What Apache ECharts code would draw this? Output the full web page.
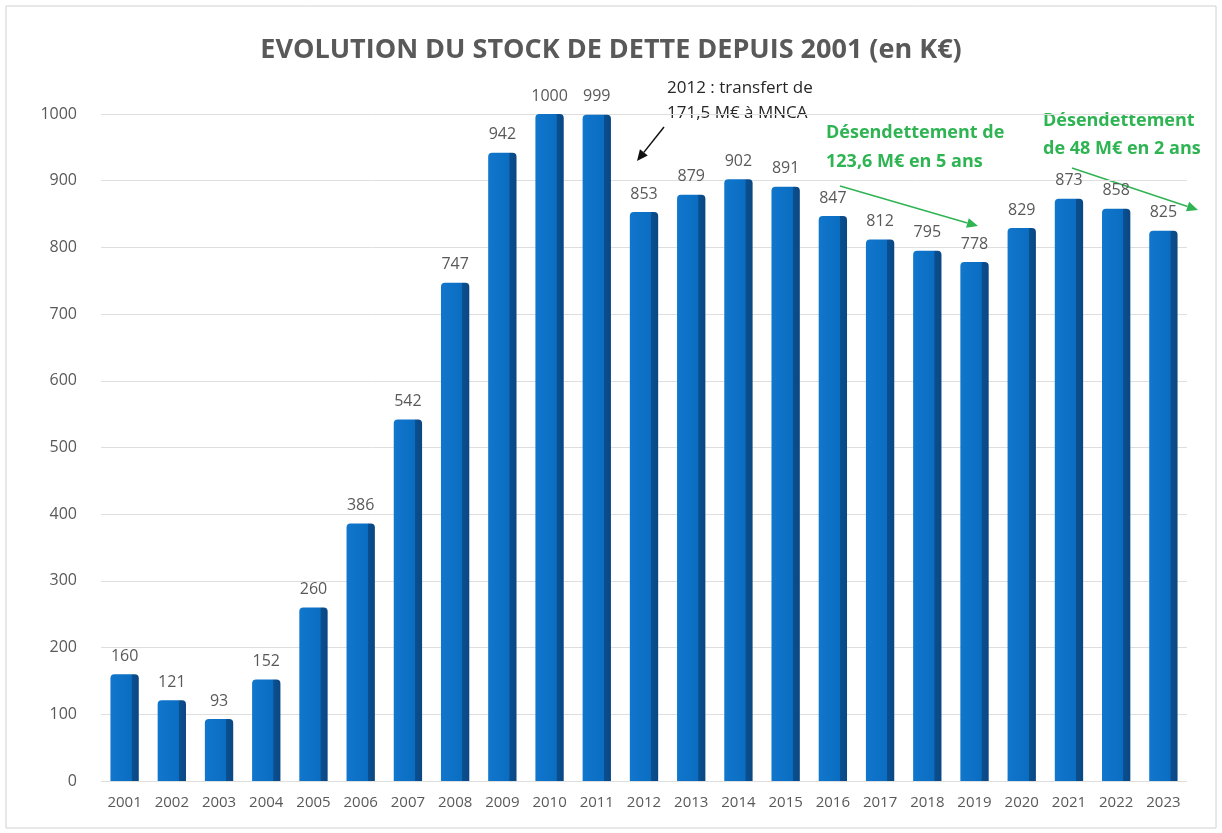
<!DOCTYPE html>
<html>
<head>
<meta charset="utf-8">
<script src="https://cdn.jsdelivr.net/npm/echarts@6/dist/echarts.min.js"></script>
<style>
html,body{margin:0;padding:0;background:#fff;}
#chart{width:1222px;height:833px;}
</style>
</head>
<body>
<div id="chart"></div>
<script>
// données
var annees = ['2001','2002','2003','2004','2005','2006','2007','2008','2009','2010','2011','2012',
    '2013','2014','2015','2016','2017','2018','2019','2020','2021','2022','2023'];
var stock = [160, 121, 93, 152, 260, 386, 542, 747, 942, 1000, 999, 853,
    879, 902, 891, 847, 812, 795, 778, 829, 873, 858, 825];
var yTicks = [0, 100, 200, 300, 400, 500, 600, 700, 800, 900, 1000];

var fontTxt = '"Open Sans", "Liberation Sans", sans-serif';
var gris = '#595959';
var vert = '#2fb453';

// petite flèche : trait + pointe
function fleche(x1, y1, x2, y2, color) {
    var a = Math.atan2(y2 - y1, x2 - x1);
    var L = 11, W = 5;
    var bx = x2 - L * Math.cos(a), by = y2 - L * Math.sin(a);
    return [{
        type: 'line',
        shape: {x1: x1, y1: y1, x2: bx, y2: by},
        style: {stroke: color, lineWidth: 1.5}
    }, {
        type: 'polygon',
        shape: {points: [[x2, y2],
            [bx + W * Math.sin(a), by - W * Math.cos(a)],
            [bx - W * Math.sin(a), by + W * Math.cos(a)]]},
        style: {fill: color}
    }];
}

var chart = echarts.init(document.getElementById('chart'));

var graphics = [{
    type: 'rect',
    shape: {x: 6, y: 6, width: 1210, height: 822},
    style: {fill: 'none', stroke: '#d0d0d0', lineWidth: 1},
    silent: true
}, {
    type: 'text', left: 667, top: 76,
    style: {text: '2012 : transfert de\n171,5 M€ à MNCA', fill: '#262626',
        font: '17px ' + fontTxt, lineHeight: 25}
}, {
    type: 'text', left: 826, top: 118,
    style: {text: 'Désendettement de\n123,6 M€ en 5 ans', fill: vert,
        font: 'bold 18px ' + fontTxt, lineHeight: 29}
}, {
    type: 'text', left: 1043, top: 107,
    style: {text: 'Désendettement\nde 48 M€ en 2 ans', fill: vert,
        font: 'bold 18px ' + fontTxt, lineHeight: 28}
}];
graphics = graphics
    .concat(fleche(664, 127, 637, 161, '#111'))
    .concat(fleche(840, 186, 978, 226, vert))
    .concat(fleche(1072, 168, 1198, 210, vert));

chart.setOption({
    animation: false,
    title: {
        text: 'EVOLUTION DU STOCK DE DETTE DEPUIS 2001 (en K€)',
        left: 'center',
        top: 32,
        textStyle: {color: gris, fontSize: 27, fontWeight: 'bold', fontFamily: fontTxt}
    },
    grid: {left: 101, right: 35, top: 114, bottom: 52},
    xAxis: {
        type: 'category',
        data: annees,
        axisLine: {show: false},
        axisTick: {show: false},
        axisLabel: {color: gris, fontSize: 15, fontFamily: fontTxt, margin: 14}
    },
    yAxis: {
        type: 'value',
        min: yTicks[0],
        max: yTicks[yTicks.length - 1],
        interval: 100,
        axisLabel: {color: gris, fontSize: 16, fontFamily: fontTxt, margin: 24,
            formatter: function (v) { return String(v); }},
        splitLine: {lineStyle: {color: '#dedede'}}
    },
    series: [{
        type: 'bar',
        data: stock,
        barWidth: '60%',
        itemStyle: {
            borderRadius: [4, 4, 0, 0],
            color: new echarts.graphic.LinearGradient(0, 0, 1, 0, [
                {offset: 0, color: '#1177cc'},
                {offset: 0.74, color: '#0a6dc2'},
                {offset: 0.76, color: '#0b4f8e'},
                {offset: 1, color: '#0a4784'}
            ])
        },
        label: {
            show: true,
            position: 'top',
            distance: 10,
            color: gris,
            fontSize: 16,
            fontFamily: fontTxt
        }
    }],
    graphic: graphics
});
</script>
</body>
</html>
